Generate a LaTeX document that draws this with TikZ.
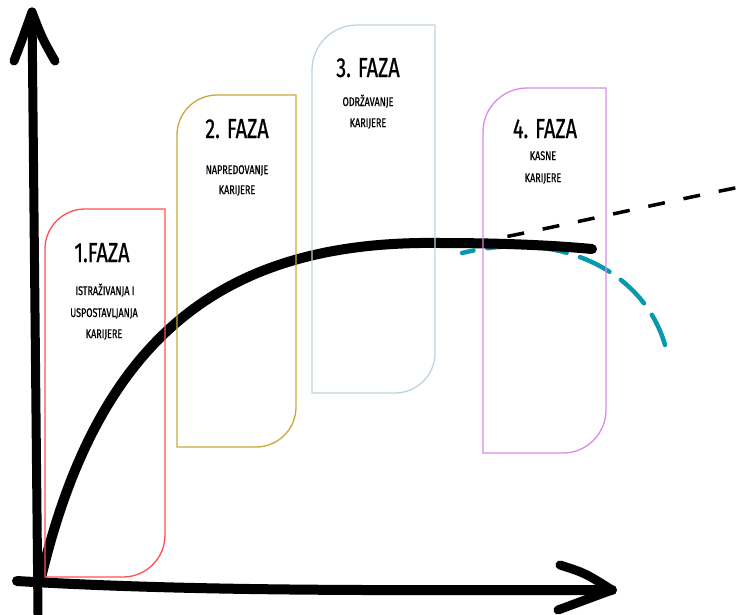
\documentclass[tikz,border=0pt]{standalone}
\usepackage{fontspec}
\newfontfamily\bebas[FakeStretch=0.72,FakeBold=0.8]{Fira Sans}
\definecolor{cRed}{HTML}{FF5050}
\definecolor{cGold}{HTML}{C9A83C}
\definecolor{cBlue}{HTML}{BFD3DE}
\definecolor{cPurple}{HTML}{D98BEA}
\definecolor{cTeal}{HTML}{0899AF}
\tikzset{
  axisline/.style={line width=9pt, line cap=round, line join=round},
  phasebox/.style={line width=1.3pt},
  ttl/.style={anchor=base, inner sep=0pt, font=\bebas\fontsize{27.5}{27.5}\selectfont},
  sub/.style={anchor=base, inner sep=0pt, font=\bebas\fontsize{12.5}{12.5}\selectfont},
}
\begin{document}
\begin{tikzpicture}[x=1pt,y=-1pt]
\useasboundingbox (0,0) rectangle (740,614);
% coordinates
\coordinate (ybot) at (38,614);
\coordinate (ytop) at (32,12);
\coordinate (yl) at (14,61);
\coordinate (yr) at (55,61);
\coordinate (xl) at (17,581);
\coordinate (xr) at (612,590);
\coordinate (xu) at (560,565);
\coordinate (xd) at (558,610);
\coordinate (o) at (41,578);
\coordinate (peak) at (440,243);
\coordinate (cend) at (592,249);
\coordinate (ds) at (480,242);
\coordinate (de) at (740,187);
\coordinate (ts) at (462,253);
\coordinate (te) at (665,345);
% axes
\draw[axisline] (ybot) -- (ytop);
\draw[axisline] (yl) .. controls (22,40) .. (ytop) .. controls (42,38) .. (yr);
\draw[axisline, line width=10pt] (xl) .. controls (200,592) and (400,590) .. (xr);
\draw[axisline] (xu) .. controls (585,573) .. (xr) .. controls (585,600) .. (xd);
% teal dashed arc
\draw[cTeal, line width=4.5pt, line cap=round, dash pattern=on 33pt off 14pt]
  (te) .. controls (645,275) and (565,228) .. (ts);
% black dashed extension
\draw[black, line width=3.5pt, dash pattern=on 17pt off 19pt, dash phase=8pt]
  (ds) .. controls (580,222) and (660,203) .. (de);
% main curve
\draw[line width=10pt, line cap=round] (o) .. controls (100,330) and (230,240) .. (peak)
  .. controls (510,243) and (560,246) .. (cend);
% boxes
\draw[phasebox, cRed] (45,577) -- (45,249) arc[start angle=180,end angle=270,radius=40]
  -- (165,209) -- (165,535) arc[start angle=0,end angle=90,radius=42] -- cycle;
\draw[phasebox, cGold] (177,447) -- (177,135) arc[start angle=180,end angle=270,radius=40]
  -- (296,95) -- (296,407) arc[start angle=0,end angle=90,radius=40] -- cycle;
\draw[phasebox, cBlue] (312,393) -- (312,70) arc[start angle=180,end angle=270,radius=45]
  -- (435,25) -- (435,353) arc[start angle=0,end angle=90,radius=40] -- cycle;
\draw[phasebox, cPurple] (483,453) -- (483,132) arc[start angle=180,end angle=270,radius=44]
  -- (606,88) -- (606,410) arc[start angle=0,end angle=90,radius=43] -- cycle;
% texts
\node[ttl] (t1) at (102,262) {1.FAZA};
\node[sub] (s1a) at (105,295) {ISTRAŽIVANJA I};
\node[sub] (s1b) at (104,317) {USPOSTAVLJANJA};
\node[sub] (s1c) at (104,338) {KARIJERE};
\node[ttl] (t2) at (237,138) {2. FAZA};
\node[sub] (s2a) at (237,174) {NAPREDOVANJE};
\node[sub] (s2b) at (237,194) {KARIJERE};
\node[ttl] (t3) at (368,77) {3. FAZA};
\node[sub] (s3a) at (368,106) {ODRŽAVANJE};
\node[sub] (s3b) at (368,127) {KARIJERE};
\node[ttl] (t4) at (545,138) {4. FAZA};
\node[sub] (s4a) at (543,160) {KASNE};
\node[sub] (s4b) at (543,182) {KARIJERE};
\end{tikzpicture}
\end{document}
